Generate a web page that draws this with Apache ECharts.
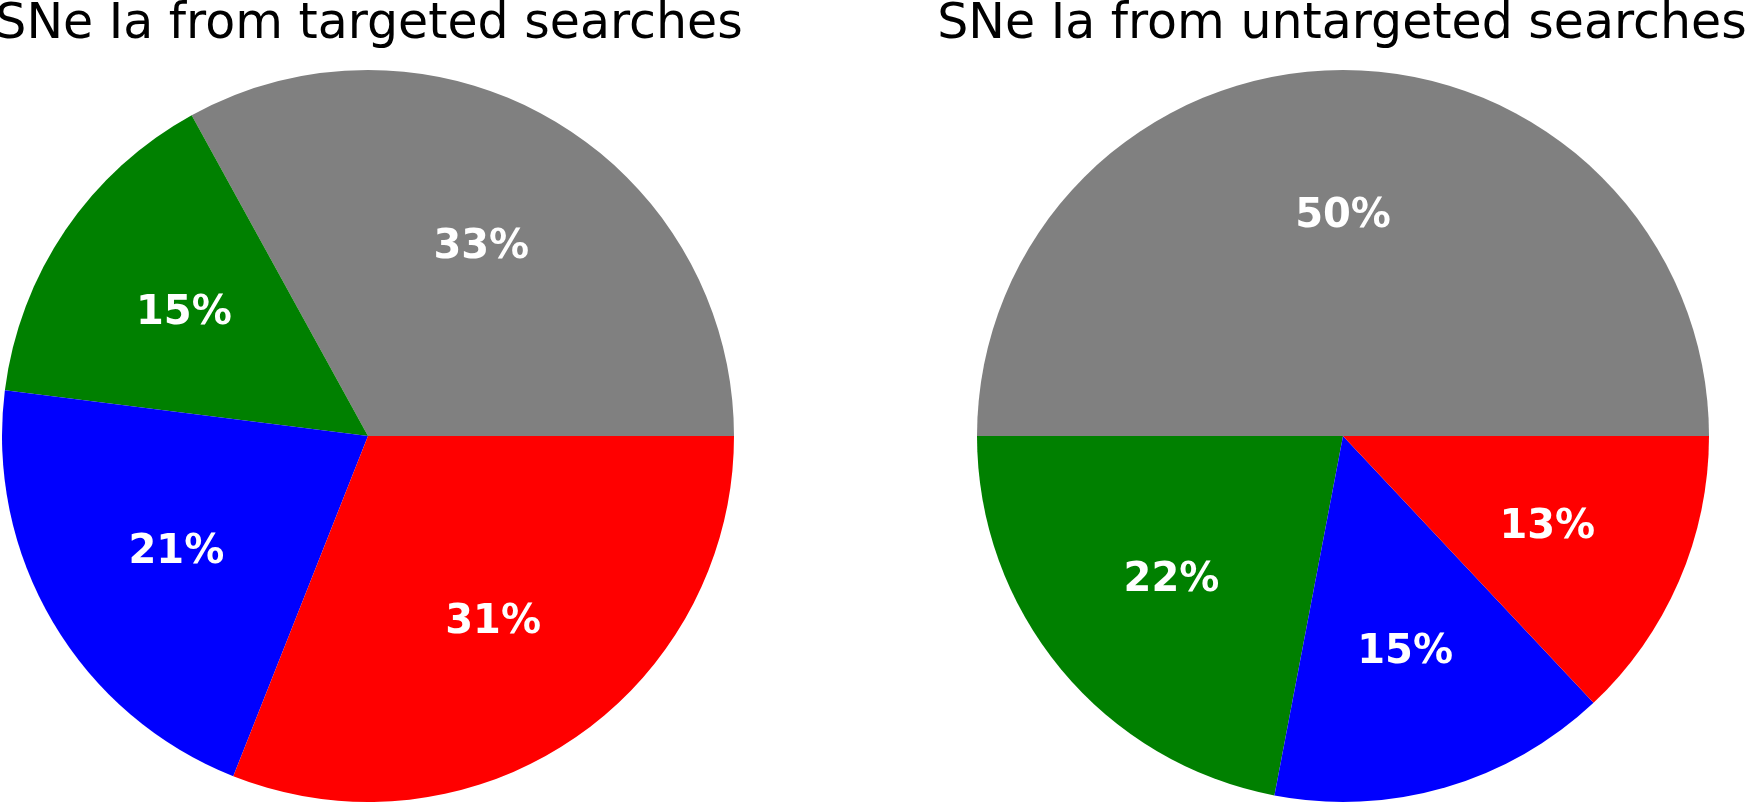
<!DOCTYPE html>
<html>
<head>
<meta charset="utf-8">
<script src="https://cdn.jsdelivr.net/npm/echarts@6/dist/echarts.min.js"></script>
<style>
  html, body { margin: 0; padding: 0; background: #fff; }
  #main { width: 1745px; height: 803px; }
</style>
</head>
<body>
<div id="main"></div>
<script>
// 数据
var categories = ['gray', 'green', 'blue', 'red'];
var targetedValues = [33, 15, 21, 31];
var untargetedValues = [50, 22, 15, 13];
var sliceColors = ['#808080', '#008000', '#0000ff', '#ff0000'];

var titles = ['SNe Ia from targeted searches', 'SNe Ia from untargeted searches'];

var R = 366;
var centers = [[368, 436], [1343, 436]];
var titleX = [364, 1337];

function toData(values) {
    return values.map(function (v, i) {
        return { name: categories[i], value: v, itemStyle: { color: sliceColors[i] } };
    });
}

// 饼图本体
function fillSeries(values, center) {
    return {
        type: 'pie',
        center: center,
        radius: [0, R],
        startAngle: 0,
        clockwise: false,
        silent: true,
        label: { show: false },
        labelLine: { show: false },
        itemStyle: { borderWidth: 0 },
        emphasis: { disabled: true },
        data: toData(values)
    };
}

// 透明的一层只用来放百分比 (0.6 R)
function labelSeries(values, center) {
    return {
        type: 'pie',
        center: center,
        radius: [R * 0.2, R],
        startAngle: 0,
        clockwise: false,
        silent: true,
        itemStyle: { color: 'transparent', borderWidth: 0 },
        label: {
            show: true,
            position: 'inside',
            formatter: '{c}%',
            color: '#fff',
            fontFamily: 'DejaVu Sans',
            fontWeight: 'bold',
            fontSize: 40,
            offset: [0, 3]
        },
        labelLine: { show: false },
        emphasis: { disabled: true },
        data: values.map(function (v, i) { return { name: categories[i], value: v }; })
    };
}

var myChart = echarts.init(document.getElementById('main'));

var option = {
    animation: false,
    backgroundColor: '#fff',
    title: titles.map(function (t, i) {
        return {
            text: t,
            left: titleX[i],
            textAlign: 'center',
            top: -4,
            textStyle: {
                fontFamily: 'DejaVu Sans',
                fontWeight: 'normal',
                fontSize: 49,
                color: '#000'
            }
        };
    }),
    series: [
        fillSeries(targetedValues, centers[0]),
        fillSeries(untargetedValues, centers[1]),
        labelSeries(targetedValues, centers[0]),
        labelSeries(untargetedValues, centers[1])
    ]
};

myChart.setOption(option);

window.addEventListener('resize', function () {
    myChart.resize();
});
</script>
</body>
</html>
